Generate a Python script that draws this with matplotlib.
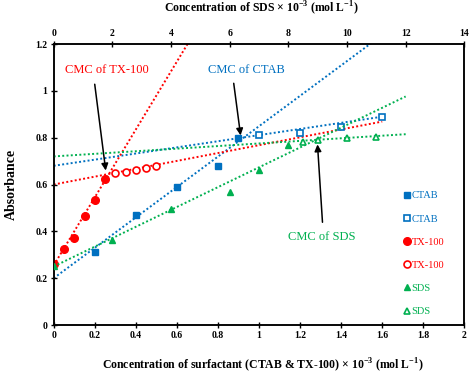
import matplotlib
matplotlib.use("Agg")
import matplotlib.pyplot as plt
from matplotlib.ticker import FormatStrFormatter

plt.rcParams["font.family"] = "Liberation Serif"
plt.rcParams["mathtext.fontset"] = "custom"
plt.rcParams["mathtext.rm"] = "Liberation Serif"
plt.rcParams["mathtext.bf"] = "Liberation Serif:bold"

BLUE = "#0070C0"
RED = "#FF0000"
GREEN = "#00B050"

# CTAB (bottom axis), below / above CMC
ctab_x_pre = [0.2, 0.4, 0.6, 0.8, 0.9]
ctab_y_pre = [0.31, 0.47, 0.59, 0.68, 0.80]
ctab_x_post = [1.0, 1.2, 1.4, 1.6]
ctab_y_post = [0.81, 0.82, 0.845, 0.887]

# TX-100 (bottom axis)
tx_x_pre = [0.0, 0.05, 0.1, 0.15, 0.2, 0.25]
tx_y_pre = [0.26, 0.325, 0.37, 0.465, 0.535, 0.625]
tx_x_post = [0.3, 0.35, 0.4, 0.45, 0.5]
tx_y_post = [0.648, 0.652, 0.66, 0.67, 0.68]

# SDS (top axis)
sds_x_pre = [0, 2, 4, 6, 7, 8]
sds_y_pre = [0.25, 0.365, 0.495, 0.568, 0.66, 0.77]
sds_x_post = [8.5, 9, 10, 11]
sds_y_post = [0.782, 0.79, 0.80, 0.805]

# trend lines: (slope, intercept, x_start, x_end)
ctab_fit_pre = (0.649, 0.20, 0.0, 2.0)
ctab_fit_post = (0.131, 0.68, 0.0, 1.6)
tx_fit_pre = (1.45, 0.255, 0.0, 1.0)
tx_fit_post = (0.168, 0.60, 0.0, 1.6)
sds_fit_pre = (0.0605, 0.25, 0.0, 12.0)
sds_fit_post = (0.0079, 0.72, 0.0, 12.0)

fig = plt.figure(figsize=(4.7, 3.74), dpi=100)
ax = fig.add_axes([0.1143, 0.131, 0.8736, 0.7513])
ax2 = ax.twiny()

dot = (0, (1, 1.2))


def trend(axis, fit, color):
    m, b, x0, x1 = fit
    axis.plot([x0, x1], [b + m * x0, b + m * x1], color=color, lw=1.4,
              ls=dot, zorder=1)


trend(ax, ctab_fit_pre, BLUE)
trend(ax, ctab_fit_post, BLUE)
trend(ax, tx_fit_pre, RED)
trend(ax, tx_fit_post, RED)
trend(ax2, sds_fit_pre, GREEN)
trend(ax2, sds_fit_post, GREEN)

ms = 5
h1, = ax.plot(ctab_x_pre, ctab_y_pre, "s", color=BLUE, ms=ms, zorder=3)
h2, = ax.plot(ctab_x_post, ctab_y_post, "s", mfc="white", mec=BLUE, mew=1.2, ms=ms, zorder=3)
h3, = ax.plot(tx_x_pre, tx_y_pre, "o", color=RED, ms=ms + 0.5, zorder=3)
h4, = ax.plot(tx_x_post, tx_y_post, "o", mfc="white", mec=RED, mew=1.2, ms=ms, zorder=3)
h5, = ax2.plot(sds_x_pre, sds_y_pre, "^", color=GREEN, ms=ms, zorder=3)
h6, = ax2.plot(sds_x_post, sds_y_post, "^", mfc="white", mec=GREEN, mew=1.2, ms=ms, zorder=3)

ax.set_xlim(0, 2)
ax.set_ylim(0, 1.2)
ax2.set_xlim(0, 14)
ax2.set_ylim(0, 1.2)
ax.set_xticks([0, 0.2, 0.4, 0.6, 0.8, 1, 1.2, 1.4, 1.6, 1.8, 2])
ax.set_yticks([0, 0.2, 0.4, 0.6, 0.8, 1, 1.2])
ax2.set_xticks(range(0, 15, 2))
ax.xaxis.set_major_formatter(FormatStrFormatter("%g"))
ax.yaxis.set_major_formatter(FormatStrFormatter("%g"))

for a in (ax, ax2):
    for s in a.spines.values():
        s.set_linewidth(1.1)
    a.tick_params(direction="inout", length=5, width=1, labelsize=7, pad=2)
    for lab in a.get_xticklabels() + a.get_yticklabels():
        lab.set_fontweight("bold")

ax.set_xlabel(r"Concentration of surfactant (CTAB & TX-100) × 10$^{\mathbf{-3}}$ (mol L$^{\mathbf{-1}}$)",
              fontsize=8.5, fontweight="bold")
ax.xaxis.set_label_coords(0.51, -0.143)
ax.xaxis.label.set_va("center")
ax2.set_xlabel(r"Concentration of SDS × 10$^{\mathbf{-3}}$ (mol L$^{\mathbf{-1}}$)",
               fontsize=8.5, fontweight="bold")
ax2.xaxis.set_label_coords(0.506, 1.127)
ax2.xaxis.label.set_va("center")
ax.set_ylabel("Absorbance", fontsize=10, fontweight="bold")
ax.yaxis.set_label_coords(-0.103, 0.5)
ax.yaxis.label.set_va("center")

# CMC annotations
ax.text(0.258, 1.09, "CMC of TX-100", color=RED, fontsize=9, ha="center", va="center")
ax.annotate("", xy=(0.255, 0.648), xytext=(0.198, 1.04),
            arrowprops=dict(arrowstyle="-|>", color="black", lw=1.1, mutation_scale=10))
ax.text(0.936, 1.09, "CMC of CTAB", color=BLUE, fontsize=9, ha="center", va="center")
ax.annotate("", xy=(0.912, 0.798), xytext=(0.875, 1.044),
            arrowprops=dict(arrowstyle="-|>", color="black", lw=1.1, mutation_scale=10))
ax.text(1.305, 0.375, "CMC of SDS", color=GREEN, fontsize=9, ha="center", va="center")
ax.annotate("", xy=(1.284, 0.783), xytext=(1.31, 0.427),
            arrowprops=dict(arrowstyle="-|>", color="black", lw=1.1, mutation_scale=10))

labels = ["CTAB", "CTAB", "TX-100", "TX-100", "SDS", "SDS"]
leg = ax2.legend([h1, h2, h3, h4, h5, h6], labels, loc="upper left",
                 bbox_to_anchor=(0.84, 0.495), frameon=False, fontsize=7.5,
                 handlelength=0.6, handletextpad=0.15, labelspacing=1.33,
                 borderpad=0, labelcolor=[BLUE, BLUE, RED, RED, GREEN, GREEN])

fig.savefig("out.png", dpi=100)
